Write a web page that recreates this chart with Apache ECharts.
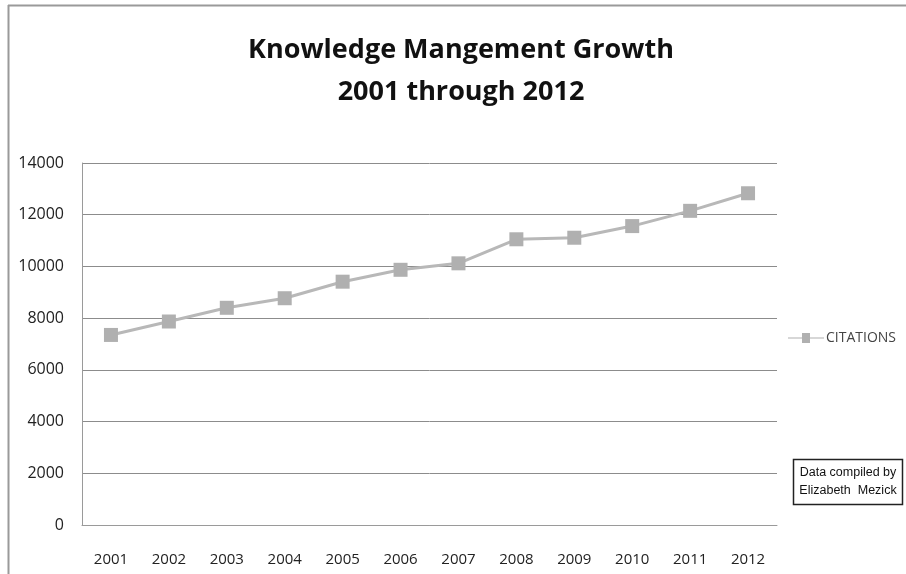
<!DOCTYPE html>
<html>
<head>
<meta charset="utf-8">
<style>
  html, body { margin: 0; padding: 0; background: #fff; }
  #chart { width: 906px; height: 574px; }
</style>
<script src="https://cdn.jsdelivr.net/npm/echarts@6/dist/echarts.min.js"></script>
</head>
<body>
<div id="chart"></div>
<script>
const titleLines = ['Knowledge Mangement Growth', '2001 through 2012'];
const years = ['2001','2002','2003','2004','2005','2006','2007','2008','2009','2010','2011','2012'];
const citations = [7350, 7870, 8400, 8770, 9410, 9870, 10120, 11050, 11110, 11560, 12150, 12830];
const seriesName = 'CITATIONS';
const noteLines = ['Data compiled by', 'Elizabeth  Mezick'];

const chart = echarts.init(document.getElementById('chart'), null, { renderer: 'canvas' });
const font = '"Open Sans", "Liberation Sans", sans-serif';
const narrow = '"Liberation Sans Narrow", "Open Sans", sans-serif';
chart.setOption({
  backgroundColor: '#ffffff',
  animation: false,
  title: {
    text: titleLines.join('\n'),
    left: 456, top: 24, textAlign: 'center',
    textStyle: { fontFamily: font, fontSize: 27, fontWeight: 'bold', color: '#111', lineHeight: 42 }
  },
  legend: {
    left: 783, top: 326,
    itemWidth: 36, itemHeight: 10, itemGap: 4,
    data: [{ name: seriesName, icon: 'path://M0,4.4 L14,4.4 L14,0 L22,0 L22,4.4 L36,4.4 L36,5.6 L22,5.6 L22,10 L14,10 L14,5.6 L0,5.6 Z' }],
    textStyle: { fontFamily: narrow, fontSize: 14, color: '#444', padding: [0,0,0,-3] }
  },
  grid: { left: 82, right: 129, top: 163, bottom: 49, containLabel: false },
  xAxis: {
    type: 'category', data: years, boundaryGap: true,
    axisLine: { show: true, lineStyle: { color: '#9a9a9a', width: 1 } },
    axisTick: { show: false },
    axisLabel: { fontFamily: narrow, fontSize: 15, color: '#222', margin: 27 }
  },
  yAxis: {
    type: 'value', min: 0, max: 14000, interval: 2000,
    axisLine: { show: true, lineStyle: { color: '#9a9a9a', width: 1 } },
    axisTick: { show: false },
    splitLine: { lineStyle: { color: '#8c8c8c', width: 1 } },
    axisLabel: { fontFamily: font, fontSize: 16, color: '#222', margin: 18, formatter: v => String(v) }
  },
  series: [{
    name: seriesName, type: 'line', data: citations,
    symbol: 'rect', symbolSize: 14,
    lineStyle: { color: '#b8b8b8', width: 3 },
    itemStyle: { color: '#b0b0b0' },
    z: 3
  }],
  graphic: [
    { type: 'line', shape: { x1: 8, y1: 5.5, x2: 906, y2: 5.5 }, style: { stroke: '#9a9a9a', lineWidth: 2 } },
    { type: 'line', shape: { x1: 8.5, y1: 5, x2: 8.5, y2: 574 }, style: { stroke: '#9a9a9a', lineWidth: 2 } },
    { type: 'rect', shape: { x: 793.5, y: 459.5, width: 109, height: 45 }, style: { fill: '#fff', stroke: '#222', lineWidth: 1.5 } },
    { type: 'text', x: 848, y: 482, style: { text: noteLines.join('\n'), fontFamily: '"Liberation Sans", Arial, sans-serif', fontSize: 12.5, lineHeight: 18, fill: '#111', align: 'center', verticalAlign: 'middle' } }
  ]
});
</script>
</body>
</html>
